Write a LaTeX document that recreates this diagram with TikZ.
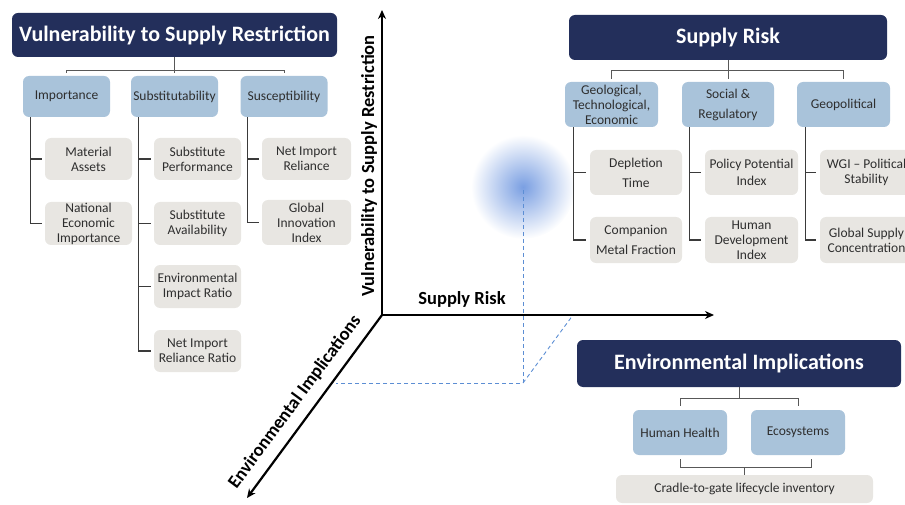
\documentclass[tikz,border=0pt]{standalone}
\usepackage{fontspec}
\setmainfont{Carlito}
\usetikzlibrary{arrows.meta}
\definecolor{navy}{HTML}{232F5B}
\definecolor{catblue}{HTML}{A9C3DA}
\definecolor{subgray}{HTML}{E8E6E2}
\definecolor{linegray}{HTML}{3A3A3A}
\definecolor{glowblue}{HTML}{7A9FE2}
\definecolor{dashblue}{HTML}{5C8ED4}
\definecolor{boxtext}{HTML}{2E2E2E}
\begin{document}
\begin{tikzpicture}[x=1pt,y=-1pt,
	titlebox/.style={fill=navy,rounded corners=6pt,text=white,inner sep=0pt,font=\bfseries\fontsize{22}{24}\selectfont},
	catbox/.style={fill=catblue,rounded corners=6pt,text=boxtext,inner sep=0pt,align=center,minimum width=87pt,minimum height=41pt,font=\fontsize{13.5}{15}\selectfont},
	subbox/.style={fill=subgray,rounded corners=6pt,text=boxtext,inner sep=0pt,align=center,minimum width=87pt,minimum height=42pt,font=\fontsize{13.5}{15}\selectfont},
	tree/.style={draw=linegray,line width=1.2pt},
	bracket/.style={draw=linegray!85,line width=1pt},
	axis/.style={draw=black,line width=2.2pt,-{Stealth[length=9pt,width=8pt]}},
	axislabel/.style={font=\bfseries\fontsize{18.5}{20}\selectfont},
	guide/.style={draw=dashblue,line width=0.9pt,dash pattern=on 4pt off 3pt}]
		\useasboundingbox (0,0) rectangle (905,505);
		\shade[inner color=glowblue,outer color=white] (523,187) circle (52);
		\coordinate (glow) at (523,190);
		\coordinate (foot) at (523,383);
		\coordinate (zfoot) at (336,383);
		\coordinate (xfoot) at (573,315);
		\draw[guide] (glow) -- (foot) -- (zfoot);
		\draw[guide] (foot) -- (xfoot);
		\coordinate (o) at (382,315);
		\coordinate (ytip) at (382,10);
		\coordinate (xtip) at (714,315);
		\coordinate (ztip) at (247,498);
		\draw[axis] (o) -- (ytip);
		\draw[axis] (o) -- (xtip);
		\draw[axis] (o) -- (ztip);
		\node[axislabel,rotate=90] (vlab) at (369,166) {Vulnerability to Supply Restriction};
		\node[axislabel] (xlab) at (462,299) {Supply Risk};
		\node[axislabel,rotate=53.6] (zlab) at (295,402) {Environmental Implications};
		% vulnerability tree
		\node[titlebox,minimum width=325pt,minimum height=44pt] (vsr) at (174.5,35) {Vulnerability to Supply Restriction};
		\node[catbox] (imp) at (66.5,96.5) {Importance};
		\node[catbox] (sbt) at (174.5,96.5) {Substitutability};
		\node[catbox] (sus) at (284,96.5) {Susceptibility};
		\node[subbox] (ma) at (88.5,159) {Material\\Assets};
		\node[subbox,minimum height=43pt] (nei) at (88.5,223.5) {National\\Economic\\Importance};
		\node[subbox] (sp) at (197.5,159) {Substitute\\Performance};
		\node[subbox,minimum height=43pt] (sa) at (197.5,223.5) {Substitute\\Availability};
		\node[subbox,minimum height=43pt] (eir) at (197.5,286.5) {Environmental\\Impact Ratio};
		\node[subbox] (nirr) at (197.5,351) {Net Import\\Reliance Ratio};
		\node[subbox,minimum width=89pt] (nir) at (306.5,159) {Net Import\\Reliance};
		\node[subbox,minimum width=89pt,minimum height=45pt] (gii) at (306.5,222.5) {Global\\Innovation\\Index};
		\draw[bracket] (vsr.south) -- ++(0,13) coordinate (vb);
		\draw[bracket] ([yshift=3pt]imp.north) |- (vb) -| ([yshift=3pt]sus.north);
		\draw[bracket] (vb) -- ([yshift=3pt]sbt.north);
		\draw[tree] ([xshift=8pt]imp.south west) |- ([xshift=-3pt]nei.west);
		\draw[tree] ([xshift=8pt]imp.south west |- ma.west) -- ([xshift=-3pt]ma.west);
		\draw[tree] ([xshift=8pt]sbt.south west) |- ([xshift=-3pt]nirr.west);
		\foreach \n in {sp,sa,eir}
			\draw[tree] ([xshift=8pt]sbt.south west |- \n.west) -- ([xshift=-3pt]\n.west);
		\draw[tree] ([xshift=7pt]sus.south west) |- ([xshift=-3pt]gii.west);
		\draw[tree] ([xshift=7pt]sus.south west |- nir.west) -- ([xshift=-3pt]nir.west);
		% supply risk tree
		\node[titlebox,minimum width=318pt,minimum height=45pt] (sr) at (728,37.5) {Supply Risk};
		\node[catbox,minimum width=93pt,minimum height=45pt] (geo) at (611.5,104.5) {Geological,\\Technological,\\Economic};
		\node[catbox,minimum width=92pt,minimum height=45pt] (soc) at (728,104.5) {Social \&\\[5pt]Regulatory};
		\node[catbox,minimum width=93pt,minimum height=45pt] (gpo) at (843.5,104.5) {Geopolitical};
		\node[subbox,minimum width=92pt,minimum height=45pt] (dep) at (636,172.5) {Depletion\\[5pt]Time};
		\node[subbox,minimum width=92pt,minimum height=46pt] (cmf) at (636,240) {Companion\\[5pt]Metal Fraction};
		\node[subbox,minimum width=93pt,minimum height=45pt] (ppi) at (751.5,172.5) {Policy Potential\\[2pt]Index};
		\node[subbox,minimum width=93pt,minimum height=46pt] (hdi) at (751.5,240) {Human\\Development\\Index};
		\node[subbox,minimum width=93pt,minimum height=45pt] (wgi) at (866.5,172.5) {WGI -- Political\\Stability};
		\node[subbox,minimum width=93pt,minimum height=46pt] (gsc) at (866.5,240) {Global Supply\\Concentration};
		\draw[bracket] (sr.south) -- ++(0,10) coordinate (sb);
		\draw[bracket] ([yshift=3pt]geo.north) |- (sb) -| ([yshift=3pt]gpo.north);
		\draw[bracket] (sb) -- ([yshift=3pt]soc.north);
		\draw[tree] ([xshift=9pt]geo.south west) |- ([xshift=-4pt]cmf.west);
		\draw[tree] ([xshift=9pt]geo.south west |- dep.west) -- ([xshift=-4pt]dep.west);
		\draw[tree] ([xshift=8pt]soc.south west) |- ([xshift=-4pt]hdi.west);
		\draw[tree] ([xshift=8pt]soc.south west |- ppi.west) -- ([xshift=-4pt]ppi.west);
		\draw[tree] ([xshift=9pt]gpo.south west) |- ([xshift=-4pt]gsc.west);
		\draw[tree] ([xshift=9pt]gpo.south west |- wgi.west) -- ([xshift=-4pt]wgi.west);
		% environmental tree
		\node[titlebox,minimum width=324pt,minimum height=47pt] (env) at (739,363.5) {Environmental Implications};
		\node[catbox,minimum width=94pt,minimum height=45pt] (hh) at (680,432.5) {Human Health};
		\node[catbox,minimum width=94pt,minimum height=45pt] (eco) at (798,432.5) {Ecosystems};
		\node[subbox,minimum width=257pt,minimum height=28pt] (cgi) at (744.5,489) {Cradle-to-gate lifecycle inventory};
		\draw[bracket] (env.south) -- ++(0,11) coordinate (eb);
		\draw[bracket] ([yshift=4pt]hh.north) |- (eb) -| ([yshift=4pt]eco.north);
		\draw[bracket] ([yshift=-4pt]hh.south) |- ([yshift=7pt]cgi.north) coordinate (cb) -| ([xshift=13pt,yshift=-4pt]eco.south);
		\draw[bracket] ([yshift=7pt]cgi.north) -- (cgi.north);
\end{tikzpicture}
\end{document}
